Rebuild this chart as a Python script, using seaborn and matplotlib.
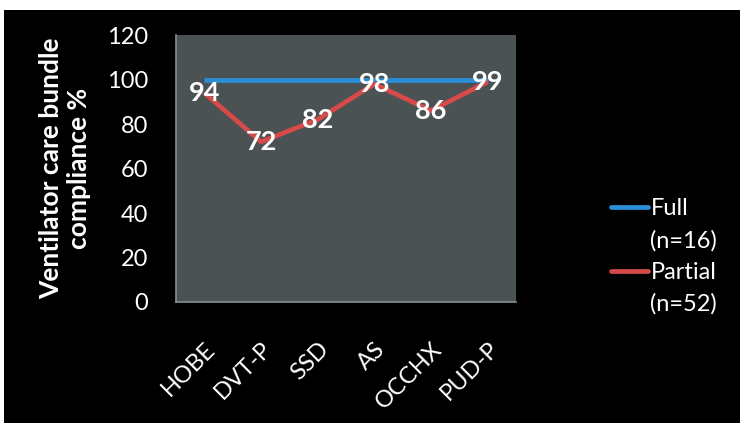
import matplotlib
matplotlib.use("Agg")
import matplotlib.pyplot as plt
from matplotlib.patches import Rectangle
from matplotlib.lines import Line2D
import seaborn as sns
import pandas as pd

# Bundle elements and compliance values
elements = ["HOBE", "DVT-P", "SSD", "AS", "OCCHX", "PUD-P"]
full_values = [100, 100, 100, 100, 100, 100]
partial_values = [94, 72, 82, 98, 86, 99]
series_names = ["Full", "Partial"]
legend_labels = ["Full\n(n=16)", "Partial\n(n=52)"]
y_ticks = [0, 20, 40, 60, 80, 100, 120]

colors = {"Full": "#2b8fd8", "Partial": "#d64a4a"}
bg_plot = "#4a5253"

sns.set_theme(style="dark")
plt.rcParams["font.family"] = ["Lato", "DejaVu Sans"]

df = pd.DataFrame({
    "element": elements * 2,
    "pos": list(range(len(elements))) * 2,
    "value": full_values + partial_values,
    "series": [series_names[0]] * len(elements) + [series_names[1]] * len(elements),
})

fig = plt.figure(figsize=(7.4, 4.23), dpi=100)
fig.patch.set_facecolor("white")
fig.patches.append(Rectangle((4 / 740, 0), 1, 1 - 10 / 423, transform=fig.transFigure,
                             facecolor="black", edgecolor="none", zorder=-10))

ax = fig.add_axes([176 / 740, 121 / 423, 340 / 740, 267 / 423])
ax.set_facecolor(bg_plot)

sns.lineplot(data=df, x="pos", y="value", hue="series", palette=colors,
             linewidth=3.4, legend=False, ax=ax, solid_capstyle="butt")

# value labels on the partial-compliance line
for i, v in enumerate(partial_values):
    ax.text(i, v, str(v), ha="center", va="center", color="white",
            fontsize=19.5, fontweight="bold", zorder=5)

ax.set_xlim(-0.5, len(elements) - 0.5)
ax.set_ylim(0, 120)
ax.set_yticks(y_ticks)
ax.set_xticks(range(len(elements)))
ax.set_xticklabels(elements, rotation=45, ha="right", rotation_mode="anchor")
ax.tick_params(axis="y", colors="white", labelsize=17, length=0, pad=20)
ax.tick_params(axis="x", colors="white", labelsize=17, length=0, pad=26)
ax.grid(False)

for side in ["top", "right"]:
    ax.spines[side].set_visible(False)
for side in ["left", "bottom"]:
    ax.spines[side].set_visible(True)
    ax.spines[side].set_color("#8a8f90")
    ax.spines[side].set_linewidth(1.2)

ax.set_xlabel("")
ax.set_ylabel("Ventilator care bundle\ncompliance %", color="white",
              fontsize=19, fontweight="bold", linespacing=1.2)
ax.yaxis.set_label_coords(-0.25, 0.5)

handles = [
    Line2D([], [], color=colors["Full"], linewidth=3.4),
    Line2D([], [], color="none"),
    Line2D([], [], color=colors["Partial"], linewidth=3.4),
    Line2D([], [], color="none"),
]
texts = []
for lab in legend_labels:
    texts.extend(lab.split("\n"))
leg = fig.legend(handles, texts, loc="upper left", bbox_to_anchor=(611 / 740, 1 - 198 / 423),
                 frameon=False, fontsize=17, handlelength=1.55, handletextpad=0.12,
                 labelspacing=0.45, borderpad=0, borderaxespad=0)
for t in leg.get_texts():
    t.set_color("white")

fig.savefig("out.png", dpi=100, facecolor=fig.get_facecolor())
